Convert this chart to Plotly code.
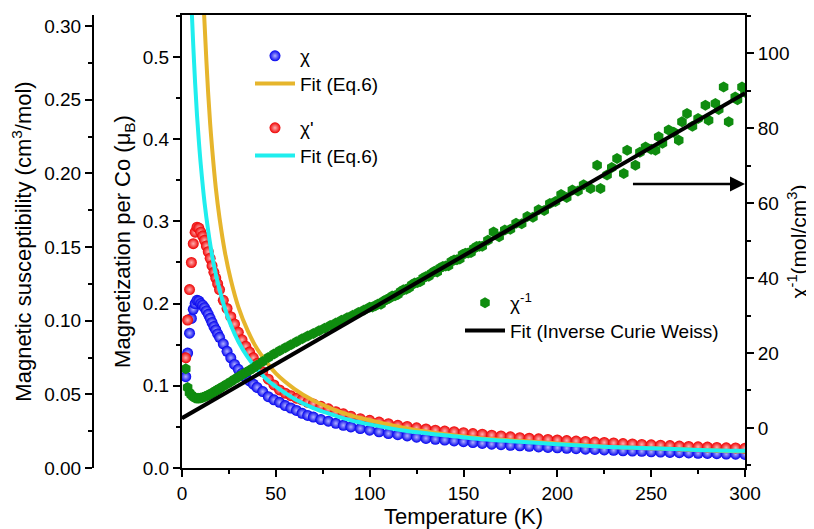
import plotly.graph_objects as go

# ---------------- data ----------------
T_chi = [2,3,4,5,6,7,8,9,10,11,12,13,14,15,16,17,18,19,20,22,24,26,28,30,32,34,36,38,40,
         43,46,49,52,55,58,61,64,67,70,74,78,82,86,90,95,100,105,110,115,120,125,130,135,
         140,145,150,155,160,165,170,175,180,185,190,195,200,205,210,215,220,225,230,235,
         240,245,250,255,260,265,270,275,280,285,290,295,300]

chi = [0.0620,0.0780,0.0915,0.1015,0.1077,0.1116,0.1138,0.1133,0.1116,0.1105,0.1088,0.1066,
       0.1043,0.1016,0.0988,0.0960,0.0937,0.0910,0.0887,0.0843,0.0792,0.0748,0.0703,0.0670,
       0.0642,0.0614,0.0591,0.0569,0.0547,0.0519,0.0484,0.0463,0.0446,0.0424,0.0407,0.0391,
       0.0371,0.0357,0.0346,0.0329,0.0318,0.0303,0.0290,0.0279,0.0268,0.0257,0.0246,0.0234,
       0.0226,0.0218,0.0209,0.0201,0.0195,0.0190,0.0184,0.0179,0.0173,0.0167,0.0162,0.0158,
       0.0154,0.0151,0.0147,0.0143,0.0140,0.0137,0.0134,0.0131,0.0128,0.0126,0.0123,0.0120,
       0.0117,0.0115,0.0113,0.0110,0.0108,0.0106,0.0104,0.0102,0.0100,0.0099,0.0097,0.0095,
       0.0094,0.0092]

chi_p = [0.0748,0.1004,0.1211,0.1395,0.1523,0.1601,0.1635,0.1629,0.1601,0.1574,0.1546,0.1507,
         0.1468,0.1423,0.1373,0.1328,0.1289,0.1250,0.1211,0.1138,0.1083,0.1027,0.0977,0.0921,
         0.0870,0.0826,0.0787,0.0748,0.0709,0.0653,0.0603,0.0564,0.0530,0.0508,0.0491,0.0474,
         0.0463,0.0446,0.0435,0.0419,0.0402,0.0382,0.0368,0.0352,0.0335,0.0324,0.0312,0.0301,
         0.0290,0.0282,0.0273,0.0265,0.0257,0.0251,0.0246,0.0240,0.0234,0.0229,0.0223,0.0218,
         0.0212,0.0206,0.0202,0.0198,0.0194,0.0190,0.0186,0.0183,0.0180,0.0176,0.0173,0.0170,
         0.0166,0.0163,0.0160,0.0157,0.0155,0.0152,0.0149,0.0146,0.0144,0.0142,0.0140,0.0137,
         0.0136,0.0134]

T_fit_chi = [11.7,13,14,15,16,18,20,23,26,30,35,40,45,50,60,70,80,90,100,120,140,160,180,200,225,250,275,300]
fit_chi = [0.3100,0.2762,0.2533,0.2338,0.2176,0.1903,0.1696,0.1456,0.1278,0.1094,0.0932,0.0809,
           0.0720,0.0642,0.0536,0.0458,0.0402,0.0357,0.0324,0.0268,0.0229,0.0201,0.0184,0.0167,
           0.0145,0.0134,0.0123,0.0112]

T_fit_chip = [5.2,6,7,8,9,10,12,14,16,18,20,23,26,30,35,40,45,50,60,70,80,90,100,120,140,160,180,200,225,250,275,300]
fit_chip = [0.3100,0.2868,0.2611,0.2394,0.2215,0.2059,0.1802,0.1607,0.1445,0.1317,0.1211,0.1077,
            0.0971,0.0859,0.0753,0.0670,0.0603,0.0552,0.0469,0.0407,0.0363,0.0324,0.0296,0.0251,
            0.0223,0.0195,0.0179,0.0162,0.0145,0.0134,0.0123,0.0117]

T_inv = [2,3,4,5,6,7,8,9,10,11,12,13,14,15,16,17,18,19,20,22,24,26,28,30,32,34,36,38,40,43,46,
         49,52,55,58,61,64,67,70,73,76,79,82,85,88,91,94,97,100,
         101.5,103,104.5,106,107.5,109,110.5,112,113.5,115,116.5,118,119.5,121,122.5,124,125.5,
         127,128.5,130,131.5,133,134.5,136,137.5,139,140.5,142,143.5,145,146.5,148,149.5,151,
         152.5,154,155.5,157,158.5,160,163,
         166,169,172,175,178,181,184,187,190,193,196,199,202,205,208,211,214,217.7,221.2,223,
         226.5,229,231.8,235.4,237.2,241.6,244,247,250,252.3,254,256,259.3,262,264.7,266.4,
         269.1,272,275,278.9,280.6,284.2,286,288.6,291.3,294.8,296,298.4,300]
chi_inv = [15.8,10.8,9.4,8.8,8.3,8.0,7.9,7.9,8.0,8.1,8.3,8.5,8.8,9.0,9.3,9.6,9.9,10.2,10.5,11.1,
           11.7,12.3,13.0,13.6,14.2,14.8,15.4,16.0,16.7,17.7,18.8,19.7,20.6,21.4,22.2,23.0,23.8,
           24.5,25.2,25.9,26.6,27.3,28.0,28.7,29.4,30.1,30.8,31.5,32.2,
           32.3,32.6,33.1,33.0,33.9,34.3,34.6,35.2,35.3,35.6,36.4,36.9,37.0,37.4,38.2,38.7,38.8,
           39.1,40.0,40.4,40.5,41.3,41.8,41.6,42.7,43.1,43.2,43.3,44.4,44.8,44.9,45.1,46.3,46.6,
           46.7,46.8,47.9,48.4,48.5,48.5,50.1,
           52.3,51.0,52.8,53.0,54.6,54.5,56.4,56.2,58.2,58.0,59.9,60.4,62.3,
           61.5,63.5,63.2,64.9,63.9,70.1,63.9,67.5,69.5,71.9,67.9,74.1,70.1,73.6,75.0,74.4,74.1,
           77.7,76.0,79.5,78.9,76.8,81.7,83.9,80.5,82.6,86.1,82.1,86.6,85.0,91.0,81.7,88.3,87.6,
           91.0,89.6]

T_cw = [0, 300]
cw_line = [2.6, 89.3]

x_ticks = [0, 50, 100, 150, 200, 250, 300]
inv_ticks = [0, 20, 40, 60, 80, 100]

FONT = "Liberation Sans, Arial, sans-serif"

fig = go.Figure()

# chi data on susceptibility axis (primary 'y')
fig.add_trace(go.Scatter(x=T_chi, y=chi, mode="markers", name="χ", yaxis="y", legend="legend",
                         marker=dict(color="#0000ee", size=11, line=dict(width=0),
                                     gradient=dict(type="radial", color="#b0b0ff"))))
fig.add_trace(go.Scatter(x=T_chi, y=chi_p, mode="markers", name="χ'", yaxis="y", legend="legend2",
                         marker=dict(color="#ee0000", size=11, line=dict(width=0),
                                     gradient=dict(type="radial", color="#ffb0b0"))))
fig.add_trace(go.Scatter(x=T_fit_chi, y=fit_chi, mode="lines", name="Fit (Eq.6)", yaxis="y",
                         legend="legend", line=dict(color="#E6B52C", width=4, shape="spline")))
fig.add_trace(go.Scatter(x=T_fit_chip, y=fit_chip, mode="lines", name="Fit (Eq.6)", yaxis="y",
                         legend="legend2", line=dict(color="#1FEEEE", width=4, shape="spline")))
# empty trace so that the magnetization axis is drawn
fig.add_trace(go.Scatter(x=[None], y=[None], mode="markers", yaxis="y2", showlegend=False,
                         hoverinfo="skip"))
fig.add_trace(go.Scatter(x=T_inv, y=chi_inv, mode="markers", name="χ<sup>-1</sup>", yaxis="y3",
                         legend="legend3",
                         marker=dict(color="#0F8C0F", size=11, symbol="hexagon", line=dict(width=0))))
fig.add_trace(go.Scatter(x=T_cw, y=cw_line, mode="lines", name="Fit (Inverse Curie Weiss)",
                         yaxis="y3", legend="legend3", line=dict(color="black", width=4)))

axis_common = dict(showline=True, linecolor="black", linewidth=2, ticks="outside",
                   tickcolor="black", tickwidth=2, ticklen=7, showgrid=False, zeroline=False,
                   automargin=False,
                   tickfont=dict(family=FONT, size=19, color="black"))

minor_common = dict(ticks="outside", ticklen=4, tickcolor="black", tickwidth=2)

# the page body adds an 8 px offset; figure is sized so that it fits the 814x529 window
OFF = 8
FW, FH = 814 - OFF, 529 - OFF
L, R, TM, B = 55 - OFF, 69, 15 - OFF, 61
W = FW - L - R
H = FH - TM - B

def px_x(p):
    return (p - OFF - L) / W

def px_y(p):
    return (FH - B - (p - OFF)) / H

leg_common = dict(xanchor="left", yanchor="top", bgcolor="rgba(0,0,0,0)",
                  font=dict(size=19), tracegroupgap=0, itemwidth=40)

fig.update_layout(
    width=FW, height=FH,
    margin=dict(l=L, r=R, t=TM, b=B, autoexpand=False),
    paper_bgcolor="white", plot_bgcolor="white",
    font=dict(family=FONT, color="black"),
    xaxis=dict(domain=[px_x(182), 1.0], range=[0, 300], tickvals=x_ticks, mirror=True,
               minor=dict(dtick=25, **minor_common),
               title=dict(text="Temperature (K)", font=dict(size=22), standoff=0),
               **axis_common),
    yaxis=dict(range=[0, 0.3075], dtick=0.05, tickformat=".2f", anchor="free",
               position=px_x(93), side="left",
               minor=dict(dtick=0.025, **minor_common),
               title=dict(text="Magnetic susceptibility (cm<sup>3</sup>/mol)", font=dict(size=22), standoff=6),
               **axis_common),
    yaxis2=dict(range=[0, 0.551], dtick=0.1, tickformat=".1f", overlaying="y", anchor="x",
                side="left",
                minor=dict(dtick=0.05, **minor_common),
                title=dict(text="Magnetization per Co (μ<sub>B</sub>)", font=dict(size=22), standoff=6),
                **axis_common),
    yaxis3=dict(range=[-10.7, 110.2], tickvals=inv_ticks, overlaying="y",
                anchor="x", side="right",
                minor=dict(dtick=10, **minor_common),
                title=dict(text="χ<sup>-1</sup>(mol/cm<sup>3</sup>)", font=dict(size=21), standoff=3),
                **axis_common),
    legend=dict(x=px_x(250), y=px_y(37), **leg_common),
    legend2=dict(x=px_x(250), y=px_y(109), **leg_common),
    legend3=dict(x=px_x(460), y=px_y(284), **leg_common),
    showlegend=True,
    annotations=[dict(x=300, y=65.1, xref="x", yref="y3", ax=239.5, ay=65.1, axref="x", ayref="y3",
                      showarrow=True, arrowhead=2, arrowsize=1.2, arrowwidth=2.5, arrowcolor="black",
                      text="")],
)

fig.write_html("out.html")
